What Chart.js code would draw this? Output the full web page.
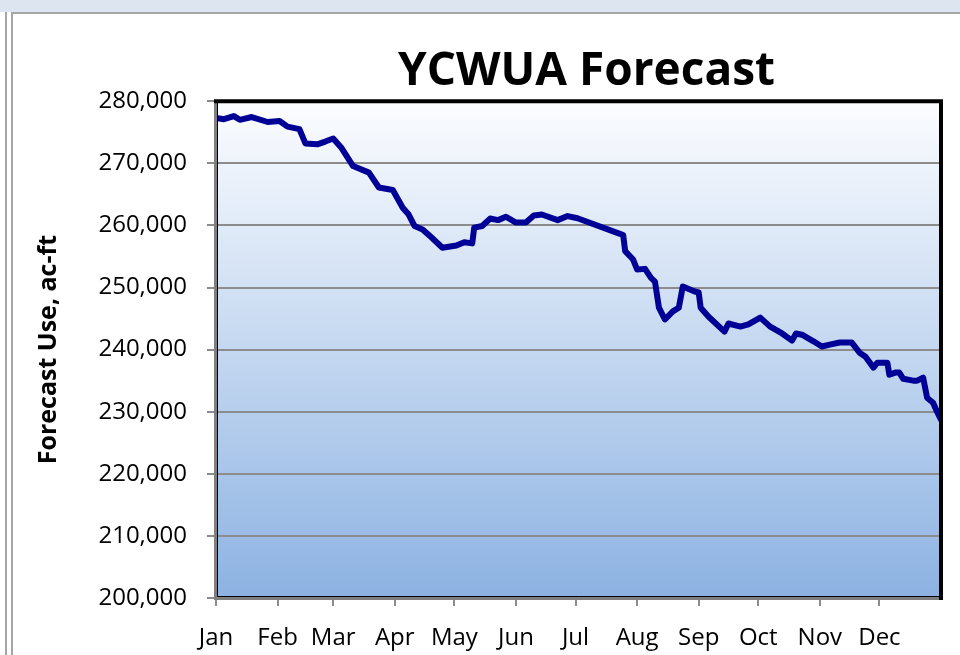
<!DOCTYPE html>
<html>
<head>
<meta charset="utf-8">
<title>YCWUA Forecast</title>
<script src="https://cdn.jsdelivr.net/npm/chart.js@4.4.1/dist/chart.umd.min.js"></script>
<style>
    html, body { margin: 0; padding: 0; background: #ffffff; }
    #cadre { position: relative; width: 960px; height: 655px; overflow: hidden; background: #ffffff; }
    #bandeHaut { position: absolute; left: 0; top: 0; width: 960px; height: 12px; background: #dde6f0; }
    #ligneHaut { position: absolute; left: 11px; top: 12px; width: 949px; height: 2px; background: #a6a6a6; }
    #ligneGauche1 { position: absolute; left: 5px; top: 12px; width: 2px; height: 643px; background: #a6a6a6; }
    #ligneGauche2 { position: absolute; left: 11px; top: 12px; width: 2px; height: 643px; background: #a6a6a6; }
    #myChartForecast { position: absolute; left: 0; top: 0; }
</style>
</head>
<body>
<div id="cadre">
    <div id="bandeHaut"></div>
    <div id="ligneHaut"></div>
    <div id="ligneGauche1"></div>
    <div id="ligneGauche2"></div>
    <canvas id="myChartForecast" width="960" height="655"></canvas>
</div>
<script>
//! Les données.

// Jour de l'année (0 = 1er janvier)
const jours = [0, 4, 9, 12, 18, 26, 32, 36, 42, 45, 51, 55, 59, 63, 69, 77, 82, 89, 94, 97,
    100, 104, 108, 114, 121, 125, 129, 130, 134, 138, 142, 146, 151, 156, 160, 164, 172, 177, 182, 202,
    205, 206, 210, 212, 216, 219, 221, 223, 226, 230, 233, 235, 241, 243, 244, 248, 256, 258, 264, 268,
    274, 279, 285, 290, 292, 295, 301, 305, 309, 314, 320, 324, 327, 331, 333, 338, 339, 342, 344, 346,
    351, 353, 356, 358, 361, 363, 365];

// Forecast use, ac-ft
const valeursForecast = [277300, 277100, 277600, 277000, 277450, 276650, 276800, 275900, 275500, 273200,
    273050, 273500, 274000, 272550, 269550, 268500, 266100, 265700, 262850, 261750,
    259900, 259350, 258200, 256400, 256750, 257300, 257100, 259650, 259900, 261100,
    260850, 261400, 260450, 260450, 261600, 261750, 260850, 261500, 261150, 258800,
    258450, 255850, 254500, 252900, 253000, 251550, 250950, 246750, 244850, 246150,
    246750, 250150, 249350, 249200, 246750, 245300, 242900, 244200, 243700, 244050,
    245150, 243700, 242600, 241450, 242600, 242400, 241300, 240500, 240800, 241150,
    241150, 239500, 238850, 237100, 237900, 237900, 235950, 236300, 236300, 235300,
    235000, 235000, 235500, 232250, 231450, 230000, 228700];

const moisLabels = ['Jan', 'Feb', 'Mar', 'Apr', 'May', 'Jun', 'Jul', 'Aug', 'Sep', 'Oct', 'Nov', 'Dec'];
const moisDebut = [0, 31, 59, 90, 120, 151, 181, 212, 243, 273, 304, 334];

const axeYMin = 200000;
const axeYMax = 280000;
const axeYPas = 10000;

//! --------------------------------------------------

//? Fond dégradé + cadre de la zone de tracé.

const fondEtCadre = {
    id: 'fondEtCadre',
    afterLayout(chart) {
        // titre Excel un peu décalé à droite du centre de la zone de tracé
        if (chart.titleBlock) {
            chart.titleBlock.left += 8;
            chart.titleBlock.right += 8;
        }
    },
    beforeDraw(chart) {
        const { ctx, chartArea: { left, top, right, bottom } } = chart;
        const degrade = ctx.createLinearGradient(0, top, 0, bottom);
        degrade.addColorStop(0, '#fcfdff');
        degrade.addColorStop(1, '#8cb2e2');
        ctx.save();
        ctx.fillStyle = degrade;
        ctx.fillRect(left, top, right - left, bottom - top);
        ctx.restore();
    },
    afterDatasetsDraw(chart) {
        const { ctx, chartArea: { left, top, right, bottom } } = chart;
        ctx.save();
        // gauche et bas : gris
        ctx.strokeStyle = '#7f7f7f';
        ctx.lineWidth = 4;
        ctx.beginPath();
        ctx.moveTo(left, top);
        ctx.lineTo(left, bottom);
        ctx.lineTo(right, bottom);
        ctx.stroke();
        ctx.strokeStyle = '#000000';
        ctx.lineWidth = 1;
        ctx.beginPath();
        ctx.moveTo(left + 1.5, top);
        ctx.lineTo(left + 1.5, bottom - 1.5);
        ctx.lineTo(right, bottom - 1.5);
        ctx.stroke();
        // haut et droite : noir
        ctx.lineWidth = 4;
        ctx.beginPath();
        ctx.moveTo(left - 2, top);
        ctx.lineTo(right, top);
        ctx.lineTo(right, bottom + 2);
        ctx.stroke();
        ctx.restore();
    }
};

//? Construction du graphique.

const ctxForecast = document.getElementById('myChartForecast').getContext('2d');

Chart.defaults.font.family = '"Open Sans", "Noto Sans", sans-serif';
Chart.defaults.color = '#000000';

const pointsForecast = jours.map((j, i) => ({ x: j, y: valeursForecast[i] }));

const configForecast = {
    type: 'line',
    data: {
        datasets: [
            {
                label: 'Forecast',
                data: pointsForecast,
                borderColor: '#000096',
                borderWidth: 6,
                borderJoinStyle: 'round',
                borderCapStyle: 'round',
                tension: 0,
                pointRadius: 0,
                clip: 0,
            },
        ],
    },
    options: {
        responsive: false,
        devicePixelRatio: 1,
        animation: false,
        events: [],
        layout: {
            padding: { left: 0, right: 19, top: 0, bottom: 0 },
        },
        plugins: {
            legend: { display: false },
            tooltip: { enabled: false },
            title: {
                display: true,
                text: 'YCWUA Forecast',
                fullSize: false,
                color: '#000000',
                font: { size: 46, weight: 'bold' },
                padding: { top: 44, bottom: 2 },
            },
        },
        scales: {
            x: {
                type: 'linear',
                min: 0,
                max: 365,
                afterBuildTicks: (scale) => {
                    scale.ticks = moisDebut.map((v) => ({ value: v }));
                },
                afterFit: (scale) => {
                    scale.height = 57;
                },
                grid: {
                    drawOnChartArea: false,
                    drawTicks: true,
                    tickLength: 8,
                    color: '#8c8c8c',
                    lineWidth: 2,
                },
                border: { display: false },
                ticks: {
                    autoSkip: false,
                    maxRotation: 0,
                    padding: 18,
                    font: { size: 24 },
                    callback: function (value, index) {
                        return moisLabels[index];
                    },
                },
            },
            y: {
                min: axeYMin,
                max: axeYMax,
                afterFit: (scale) => {
                    scale.width = 216;
                },
                grid: {
                    color: '#8c8c8c',
                    lineWidth: 2,
                    tickLength: 9,
                },
                border: { display: false },
                ticks: {
                    stepSize: axeYPas,
                    padding: 20,
                    font: { size: 24 },
                    callback: function (item) {
                        return item.toLocaleString('en-US');
                    },
                },
                title: {
                    display: true,
                    text: 'Forecast Use, ac-ft',
                    font: { size: 25, weight: 'bold' },
                    padding: { top: 34, bottom: 0 },
                },
            },
        },
    },
    plugins: [fondEtCadre],
};

new Chart(ctxForecast, configForecast);
</script>
</body>
</html>
